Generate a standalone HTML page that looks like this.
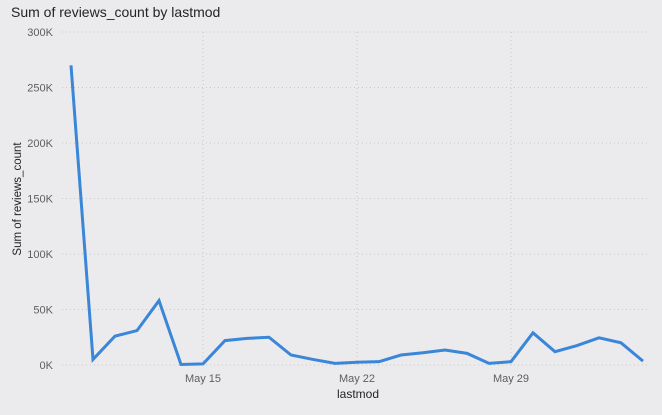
<!DOCTYPE html>
<html><head><meta charset="utf-8"><style>
html,body{margin:0;padding:0;background:#ebeaed;width:662px;height:415px;overflow:hidden}
text{font-family:"Liberation Sans",sans-serif}
</style></head><body>
<svg id="chart" width="662" height="415" xmlns="http://www.w3.org/2000/svg">
<rect width="662" height="415" fill="#ebeaed"/>
<text x="11" y="17" font-size="14" fill="#252423">Sum of reviews_count by lastmod</text>
<g id="grid"></g><g id="yticks"></g><g id="xticks"></g>
<text x="358" y="398" font-size="12" fill="#252423" text-anchor="middle">lastmod</text>
<text transform="translate(21,199) rotate(-90)" font-size="11.5" fill="#252423" text-anchor="middle">Sum of reviews_count</text>
<g id="marks"></g>
</svg>
<script>
const dayLabels=[9,10,11,12,13,14,15,16,17,18,19,20,21,22,23,24,25,26,27,28,29,30,31,32,33,34,35];
const values=[270,5,26,31,58,0.5,1,22,24,25,9,5,1.5,2.5,3,9,11,13.5,10.5,1.5,3,29,12,17.5,24.5,20,3.5];
const yTicks=[0,50,100,150,200,250,300];
const yTickLabels=["0K","50K","100K","150K","200K","250K","300K"];
const xTickDays=[15,22,29];
const xTickLabels=["May 15","May 22","May 29"];
const NS="http://www.w3.org/2000/svg";
const xS=d=>71+(d-9)*22;
const yS=v=>365-v*(333/300);
function mk(tag,attrs,parent){const e=document.createElementNS(NS,tag);for(const k in attrs)e.setAttribute(k,attrs[k]);document.getElementById(parent).appendChild(e);return e;}
yTicks.forEach((t,i)=>{
 const l=mk('line',{x1:62,x2:650,y1:yS(t),y2:yS(t),stroke:'#c8c8c8','stroke-dasharray':'1,3'},'grid');
 
 
 const tx=mk('text',{x:53,y:yS(t)+4,'font-size':'11',fill:'#605e5c','text-anchor':'end'},'yticks');
 tx.textContent=yTickLabels[i];
 
 
});
xTickDays.forEach((d,i)=>{
 const l=mk('line',{x1:xS(d),x2:xS(d),y1:yS(300),y2:yS(0),stroke:'#c8c8c8','stroke-dasharray':'1,3'},'grid');
 
 
 const tx=mk('text',{x:xS(d),y:382,'font-size':'11',fill:'#605e5c','text-anchor':'middle'},'xticks');
 tx.textContent=xTickLabels[i];
 
 
});
const pts=values.map((v,i)=>xS(dayLabels[i])+','+yS(v)).join(' ');
const pl=mk('polyline',{points:pts,fill:'none',stroke:'#3a86d8','stroke-width':'3','stroke-linejoin':'miter'},'marks');


</script>
</body></html>
